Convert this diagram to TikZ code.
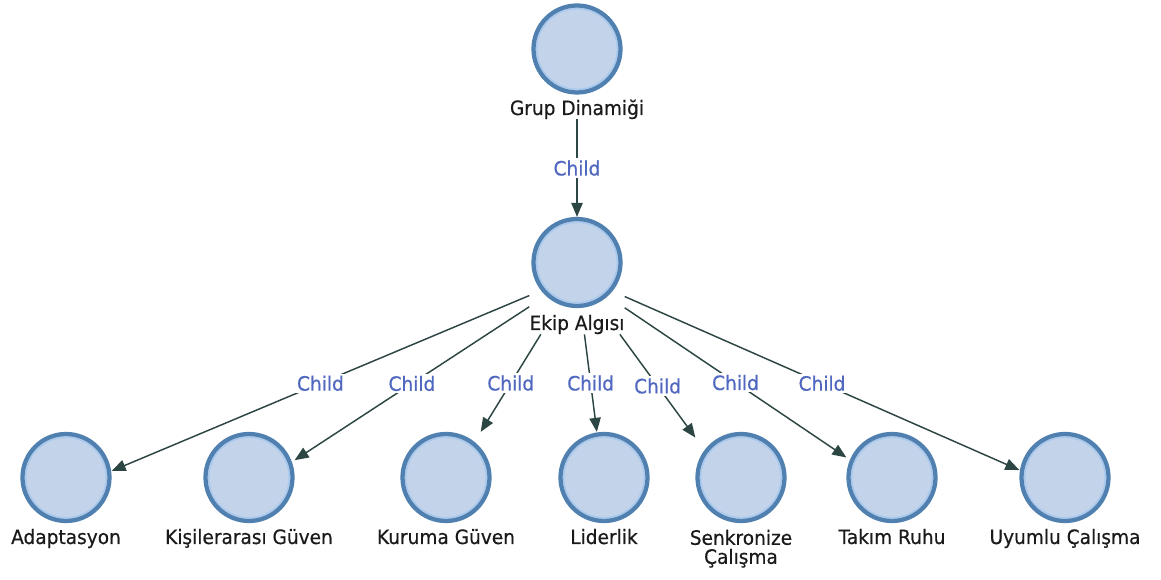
\documentclass[tikz,border=0pt]{standalone}
\usepackage{fontspec}
\setmainfont{DejaVu Sans}[FakeStretch=0.94, FakeBold=0.5]
\usetikzlibrary{arrows.meta,fit}

\definecolor{ringblue}{HTML}{5080B0}
\definecolor{ringlight}{HTML}{A8C8EE}
\definecolor{discfill}{HTML}{C3D4EA}
\definecolor{edgegray}{HTML}{2C4644}
\definecolor{tagblue}{HTML}{5068C0}
\definecolor{captionblack}{HTML}{1A1A1A}

\begin{document}
\begin{tikzpicture}[x=0.75pt,y=-0.75pt,
  disc/.style={circle, minimum size=65.25pt, inner sep=0pt, line width=3.2pt,
    draw=ringblue, fill=discfill,
    path picture={\draw[ringlight, line width=1.1pt]
      (path picture bounding box.center) circle (30.2pt);}},
  caption/.style={inner sep=0pt, anchor=base, text=captionblack,
    font=\fontsize{14.8pt}{14.3pt}\selectfont},
  hitbox/.style={inner sep=0pt, outer sep=0pt},
  link/.style={draw=edgegray, line width=1.1pt,
    -{Triangle[length=10.5pt,width=8.5pt]}},
  tag/.style={fill=white, inner sep=1.5pt, text=tagblue,
    font=\fontsize{14.8pt}{14.3pt}\selectfont}
]
\useasboundingbox (0,0) rectangle (1161,580);

% root and middle concept
\node[disc] (grup) at (577,49) {};
\node[caption] (grupcap) at (577,115) {Grup Dinamiği};
\node[hitbox, fit=(grup)(grupcap)] (grupbox) {};

\node[disc] (ekip) at (577,262.5) {};
\node[caption] (ekipcap) at (577,330) {Ekip Algısı};
\node[hitbox, fit=(ekip)(ekipcap)] (ekipbox) {};

% leaf concepts
\node[disc] (ad) at (66,477.5) {};
\node[caption] (adcap) at (66,544) {Adaptasyon};
\node[hitbox, fit=(ad)(adcap.south)] (adbox) {};

\node[disc] (kg) at (249,477.5) {};
\node[caption] (kgcap) at (249,544) {Kişilerarası Güven};
\node[hitbox, fit=(kg)(kgcap.south)] (kgbox) {};

\node[disc] (kr) at (446,477.5) {};
\node[caption] (krcap) at (446,544) {Kuruma Güven};
\node[hitbox, fit=(kr)(krcap.south)] (krbox) {};

\node[disc] (li) at (604,477.5) {};
\node[caption] (licap) at (604,544) {Liderlik};
\node[hitbox, fit=(li)(licap.south)] (libox) {};

\node[disc] (sc) at (741,477.5) {};
\node[caption, anchor=north, align=center] (sccap) at (741,529.5) {Senkronize\\Çalışma};
\node[hitbox, fit=(sc)(sccap.south)] (scbox) {};

\node[disc] (tr) at (892,477.5) {};
\node[caption] (trcap) at (892,544) {Takım Ruhu};
\node[hitbox, fit=(tr)(trcap.south)] (trbox) {};

\node[disc] (uc) at (1065,477.5) {};
\node[caption] (uccap) at (1065,544) {Uyumlu Çalışma};
\node[hitbox, fit=(uc)(uccap.south)] (ucbox) {};

% child relations
\draw[link] (grupbox) -- node[tag] {Child} (ekipbox);
\draw[link] (ekipbox) -- node[tag] {Child} (adbox);
\draw[link] (ekipbox) -- node[tag] {Child} (kgbox);
\draw[link] (ekipbox) -- node[tag] {Child} (krbox);
\draw[link] (ekipbox) -- node[tag] {Child} (libox);
\draw[link] (ekipbox) -- node[tag] {Child} (scbox);
\draw[link] (ekipbox) -- node[tag] {Child} (trbox);
\draw[link] (ekipbox) -- node[tag] {Child} (ucbox);
\end{tikzpicture}
\end{document}
